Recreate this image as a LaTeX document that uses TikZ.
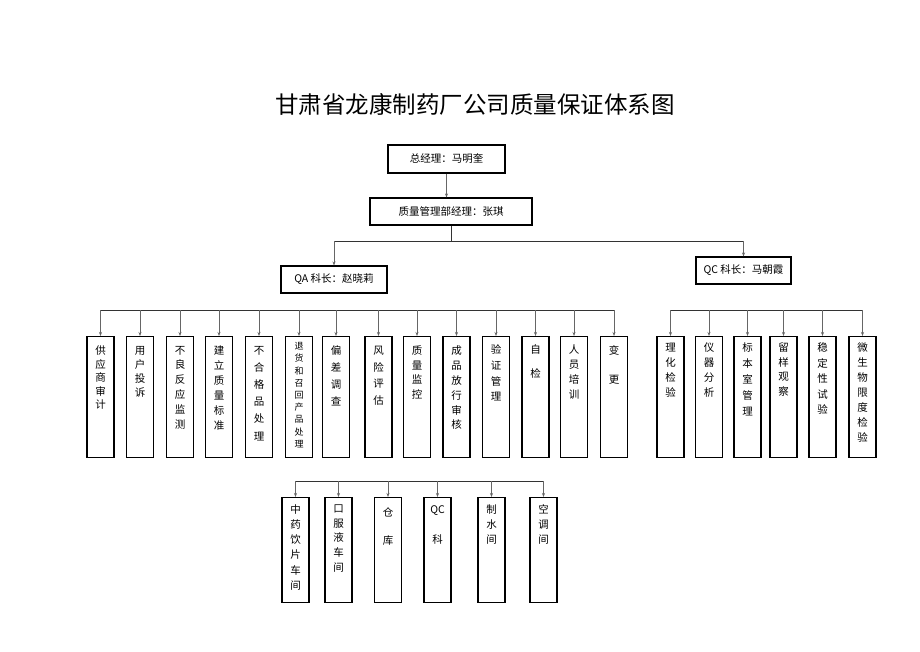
\documentclass[tikz,border=0pt]{standalone}
\usepackage{fontspec}
\setmainfont{Noto Sans CJK SC}
\usetikzlibrary{arrows.meta}
\definecolor{conn}{HTML}{666666}
\newcommand\vbx[7]{\node[cbox, minimum height=#4pt] (#1) at (#2,#3) {\parbox[c][#4pt][t]{26pt}{\centering\baselineskip=#6pt\vspace*{#5pt}#7\par}};}
\begin{document}
\begin{tikzpicture}[x=1pt,y=-1pt,
  tbox/.style={draw=black, line width=1.1pt, inner sep=0pt, font=\fontsize{10.5}{12}\selectfont},
  cbox/.style={draw=black, line width=1.1pt, inner sep=0pt, minimum width=27pt, anchor=north, font=\fontsize{10.5}{12}\selectfont},
  bus/.style={draw=black!80, line width=1pt},
  arr/.style={draw=conn, line width=0.6pt, -{Stealth[length=4pt,width=3pt]}}]
\useasboundingbox (0,0) rectangle (920,651);
\fill[white] (0,0) rectangle (920,651);
\node (title) at (475,104) {\fontsize{23.5}{24}\selectfont 甘肃省龙康制药厂公司质量保证体系图};
\node[tbox, minimum width=117pt, minimum height=28pt] (gm) at (446.5,159) {总经理：马明奎};
\node[tbox, minimum width=162pt, minimum height=27pt] (qm) at (451,211.5) {质量管理部经理：张琪};
\node[tbox, minimum width=106pt, minimum height=27pt] (qa) at (334,279.5) {QA 科长：赵晓莉};
\node[tbox, minimum width=95pt, minimum height=27pt] (qc) at (743.5,270.5) {QC 科长：马朝霞};
\draw[arr] (gm.south) -- (gm.south |- qm.north);
\coordinate (j) at (qm.south |- 0,241);
\draw[bus] (qm.south) -- (j);
\draw[bus] (qa.north |- j) -- (qc.north |- j);
\draw[arr] (qa.north |- j) -- (qa.north);
\draw[arr] (qc.north |- j) -- (qc.north);
% QA row
\vbx{a1}{100.5}{336}{121}{9.5}{13.5}{供\\应\\商\\审\\计}
\vbx{a2}{140}{336}{121}{9.5}{14.2}{用\\户\\投\\诉}
\vbx{a3}{180}{336}{121}{9.5}{14.8}{不\\良\\反\\应\\监\\测}
\vbx{a4}{219}{336}{121}{9.5}{15}{建\\立\\质\\量\\标\\准}
\vbx{a5}{259}{336}{121}{9.5}{17.2}{不\\合\\格\\品\\处\\理}
\vbx{a6}{299}{336}{121}{6}{12.2}{\fontsize{9}{12.2}\selectfont 退\\货\\和\\召\\回\\产\\品\\处\\理}
\vbx{a7}{336}{336}{121}{9.5}{16.7}{偏\\差\\调\\查}
\vbx{a8}{378.5}{336}{121}{9.5}{16.7}{风\\险\\评\\估}
\vbx{a9}{417}{336}{121}{9.5}{14.4}{质\\量\\监\\控}
\vbx{a10}{456.5}{336}{121}{9.5}{14.8}{成\\品\\放\\行\\审\\核}
\vbx{a11}{496}{336}{121}{8.5}{15.6}{验\\证\\管\\理}
\vbx{a12}{535.5}{336}{121}{8}{15}{自\\[9pt]检}
\vbx{a13}{574}{336}{121}{8.5}{15}{人\\员\\培\\训}
\vbx{a14}{614}{336}{121}{9}{15}{变\\[14pt]更}
\coordinate (qabus) at (0,310);
\draw[bus] (a1.north |- qabus) -- (a14.north |- qabus);
\foreach \i in {1,...,14} {\draw[arr] (a\i.north |- qabus) -- (a\i.north);}
% QC row
\vbx{c1}{670.5}{336}{121}{6.5}{15}{理\\化\\检\\验}
\vbx{c2}{709}{336}{121}{6.5}{15}{仪\\器\\分\\析}
\vbx{c3}{747.5}{336}{121}{6.5}{15.8}{标\\本\\室\\管\\理}
\vbx{c4}{783.5}{336}{121}{6.5}{14.4}{留\\样\\观\\察}
\vbx{c5}{822.5}{336}{121}{6.5}{15.4}{稳\\定\\性\\试\\验}
\vbx{c6}{862.5}{336}{121}{6.5}{15}{微\\生\\物\\限\\度\\检\\验}
\coordinate (qcbus) at (0,310);
\draw[bus] (c1.north |- qcbus) -- (c6.north |- qcbus);
\foreach \i in {1,...,6} {\draw[arr] (c\i.north |- qcbus) -- (c\i.north);}
% bottom row
\vbx{b1}{295.5}{497}{105}{7}{15.2}{中\\药\\饮\\片\\车\\间}
\vbx{b2}{338.5}{497}{105}{7}{14.75}{口\\服\\液\\车\\间}
\vbx{b3}{388}{497}{105}{10}{15}{仓\\[13pt]库}
\vbx{b4}{437.5}{497}{105}{8}{15}{QC\\[15pt]科}
\vbx{b5}{491.5}{497}{105}{7}{15}{制\\水\\间}
\vbx{b6}{543.5}{497}{105}{7}{15}{空\\调\\间}
\coordinate (bbus) at (0,481);
\draw[bus] (b1.north |- bbus) -- (b6.north |- bbus);
\foreach \i in {1,...,6} {\draw[arr] (b\i.north |- bbus) -- (b\i.north);}
\end{tikzpicture}
\end{document}
